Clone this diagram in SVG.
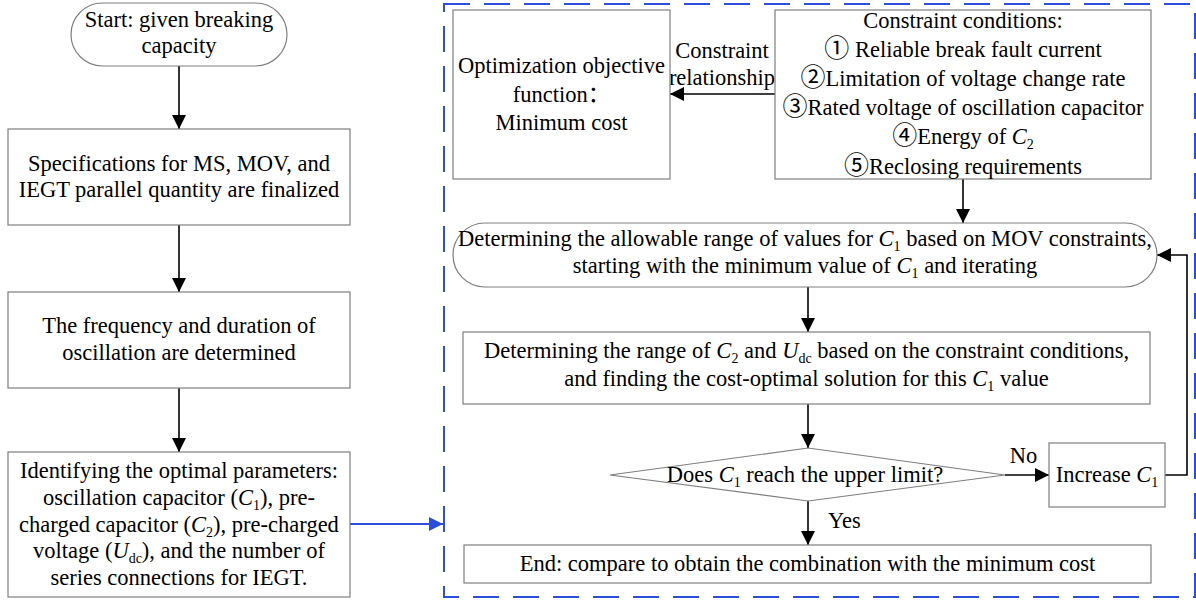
<svg xmlns="http://www.w3.org/2000/svg" width="1196" height="600" viewBox="0 0 1196 600">
<style>
  .box { fill: #ffffff; stroke: #7f7f7f; stroke-width: 1.2; }
  .t { font-family: "Liberation Serif", "Noto Sans CJK SC", serif; font-size: 22.5px; fill: #000000; text-anchor: middle; }
  .ts { font-family: "Liberation Serif", "Noto Sans CJK SC", serif; font-size: 22.5px; fill: #000000; }
  .i { font-style: italic; }
  .sub { font-size: 14px; }
  .cn { font-size: 25px; }
  .conn { fill: none; stroke: #000000; stroke-width: 1.6; }
  .blue { fill: none; stroke: #2b4fd9; stroke-width: 1.8; }
  .frame { fill: none; stroke: #2b4fd9; stroke-width: 2; stroke-dasharray: 26 14; }
</style>
<defs>
  <marker id="ah" viewBox="0 0 14 14" refX="14" refY="7" markerWidth="14" markerHeight="14" markerUnits="userSpaceOnUse" orient="auto">
    <path d="M0,0 L14,7 L0,14 z" fill="#000000"/>
  </marker>
  <marker id="ahb" viewBox="0 0 14 14" refX="14" refY="7" markerWidth="14" markerHeight="14" markerUnits="userSpaceOnUse" orient="auto">
    <path d="M0,0 L14,7 L0,14 z" fill="#2b4fd9"/>
  </marker>
</defs>

<rect class="frame" x="444" y="4" width="751" height="593"/>

<g id="connectors">
  <path class="conn" d="M179,66 L179,129" marker-end="url(#ah)"/>
  <path class="conn" d="M179,225 L179,292" marker-end="url(#ah)"/>
  <path class="conn" d="M179,388 L179,452" marker-end="url(#ah)"/>
  <path class="blue" d="M350,524 L443,524" marker-end="url(#ahb)"/>
  <path class="conn" d="M775,94 L670,94" marker-end="url(#ah)"/>
  <path class="conn" d="M963,179 L963,223" marker-end="url(#ah)"/>
  <path class="conn" d="M808,287 L808,332" marker-end="url(#ah)"/>
  <path class="conn" d="M808,404 L808,448" marker-end="url(#ah)"/>
  <path class="conn" d="M1005,475 L1049,475" stroke-width="2" marker-end="url(#ah)"/>
  <path class="conn" d="M1165,475 L1187,475 L1187,255 L1157,255" stroke-width="2" marker-end="url(#ah)"/>
  <path class="conn" d="M808,501 L808,545" marker-end="url(#ah)"/>
  <text class="t" x="722" y="58">Constraint</text>
  <text class="t" x="722" y="85">relationship</text>
  <text class="t" x="1023.5" y="463">No</text>
  <text class="ts" x="828" y="528">Yes</text>
</g>

<g id="start">
  <rect class="box" x="71" y="3" width="216" height="63" rx="31.5" ry="31.5"/>
  <text class="t" x="179" y="27">Start: given breaking</text>
  <text class="t" x="179" y="53">capacity</text>
</g>

<g id="specs">
  <rect class="box" x="8" y="129" width="342" height="96"/>
  <text class="t" x="179" y="171">Specifications for MS, MOV, and</text>
  <text class="t" x="179" y="197">IEGT parallel quantity are finalized</text>
</g>

<g id="freq">
  <rect class="box" x="8" y="292" width="342" height="96"/>
  <text class="t" x="179" y="333">The frequency and duration of</text>
  <text class="t" x="179" y="360">oscillation are determined</text>
</g>

<g id="params">
  <rect class="box" x="8" y="452" width="342" height="145"/>
  <text class="t" x="179" y="478">Identifying the optimal parameters:</text>
  <text class="t" x="179" y="505">oscillation capacitor (<tspan class="i">C</tspan><tspan class="sub" dy="5">1</tspan><tspan dy="-5">), pre-</tspan></text>
  <text class="t" x="179" y="532">charged capacitor (<tspan class="i">C</tspan><tspan class="sub" dy="5">2</tspan><tspan dy="-5">), pre-charged</tspan></text>
  <text class="t" x="179" y="558">voltage (<tspan class="i">U</tspan><tspan class="sub" dy="5">dc</tspan><tspan dy="-5">), and the number of</tspan></text>
  <text class="t" x="179" y="585">series connections for IEGT.</text>
</g>

<g id="objective">
  <rect class="box" x="453" y="10" width="217" height="169"/>
  <text class="t" x="561.5" y="73">Optimization objective</text>
  <text class="t" x="561.5" y="102">function：</text>
  <text class="t" x="561.5" y="130">Minimum cost</text>
</g>

<g id="constraints">
  <rect class="box" x="775" y="10" width="376" height="169"/>
  <text class="t" x="963" y="27.5">Constraint conditions:</text>
  <text class="t" x="963" y="56.7"><tspan class="cn">①</tspan> Reliable break fault current</text>
  <text class="t" x="963" y="85.9"><tspan class="cn">②</tspan>Limitation of voltage change rate</text>
  <text class="t" x="963" y="115.1"><tspan class="cn">③</tspan>Rated voltage of oscillation capacitor</text>
  <text class="t" x="963" y="144.3"><tspan class="cn">④</tspan>Energy of <tspan class="i">C</tspan><tspan class="sub" dy="5">2</tspan></text>
  <text class="t" x="963" y="173.5"><tspan class="cn">⑤</tspan>Reclosing requirements</text>
</g>

<g id="range-c1">
  <rect class="box" x="453" y="223" width="704" height="64" rx="32" ry="32"/>
  <text class="t" x="805" y="246">Determining the allowable range of values for <tspan class="i">C</tspan><tspan class="sub" dy="5">1</tspan><tspan dy="-5"> based on MOV constraints,</tspan></text>
  <text class="t" x="805" y="273">starting with the minimum value of <tspan class="i">C</tspan><tspan class="sub" dy="5">1</tspan><tspan dy="-5"> and iterating</tspan></text>
</g>

<g id="range-c2">
  <rect class="box" x="463" y="332" width="687" height="72"/>
  <text class="t" x="806.5" y="358">Determining the range of <tspan class="i">C</tspan><tspan class="sub" dy="5">2</tspan><tspan dy="-5"> and </tspan><tspan class="i">U</tspan><tspan class="sub" dy="5">dc</tspan><tspan dy="-5"> based on the constraint conditions,</tspan></text>
  <text class="t" x="806.5" y="386">and finding the cost-optimal solution for this <tspan class="i">C</tspan><tspan class="sub" dy="5">1</tspan><tspan dy="-5"> value</tspan></text>
</g>

<g id="decision">
  <polygon class="box" points="610,475 808,448 1005,475 808,501"/>
  <text class="t" x="805" y="482">Does <tspan class="i">C</tspan><tspan class="sub" dy="5">1</tspan><tspan dy="-5"> reach the upper limit?</tspan></text>
</g>

<g id="increase">
  <rect class="box" x="1049" y="443" width="116" height="64"/>
  <text class="t" x="1107" y="482">Increase <tspan class="i">C</tspan><tspan class="sub" dy="5">1</tspan></text>
</g>

<g id="end">
  <rect class="box" x="464" y="545" width="687" height="38"/>
  <text class="t" x="807.5" y="571">End: compare to obtain the combination with the minimum cost</text>
</g>
</svg>
